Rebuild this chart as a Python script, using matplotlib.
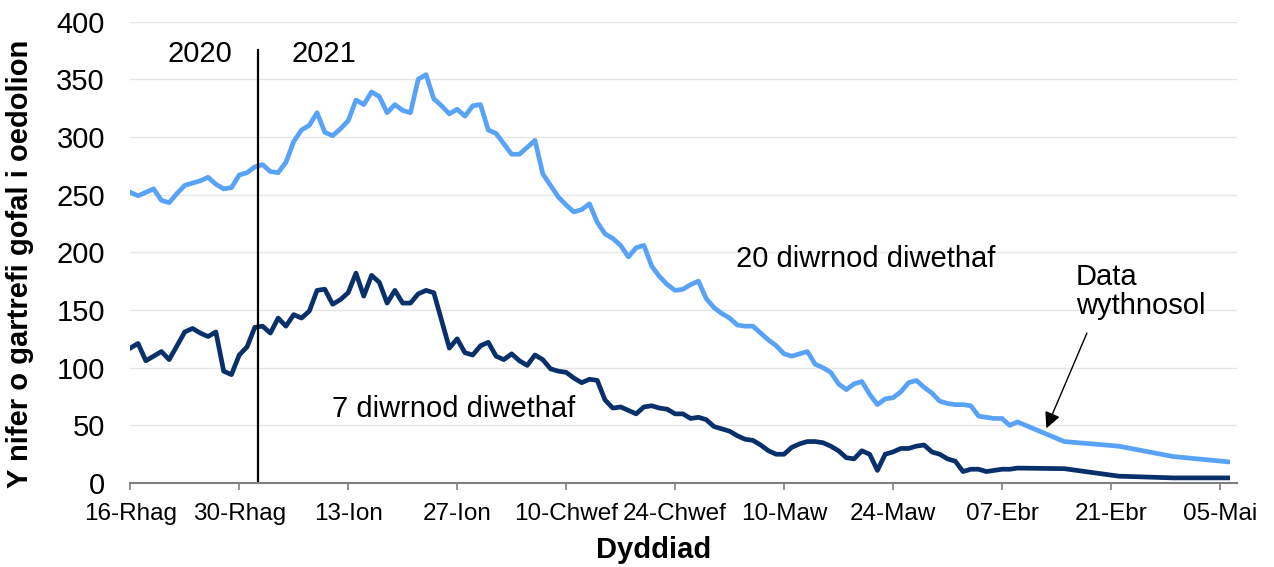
import matplotlib.pyplot as plt
import pandas as pd

plt.rcParams['font.family'] = ['Liberation Sans', 'DejaVu Sans']

# Cartrefi gofal i oedolion sydd wedi rhoi gwybod am achos (20 a 7 diwrnod diwethaf)
dyddiad_dydd = pd.date_range('2020-12-16', periods=115, freq='D')
ugain_dydd = [252, 249, 252, 255, 245, 243, 251, 258, 260, 262, 265, 259, 255, 256, 267, 269,
              274, 276, 270, 269, 278, 296, 306, 310, 321, 304, 301, 307, 314, 332, 328, 339,
              335, 321, 328, 323, 321, 350, 354, 333, 327, 320, 324, 318, 327, 328, 306, 303,
              294, 285, 285, 291, 297, 268, 258, 248, 241, 235, 237, 242, 226, 216, 212, 206,
              196, 204, 206, 188, 179, 172, 167, 168, 172, 175, 160, 152, 147, 143, 137, 136,
              136, 130, 124, 119, 112, 110, 112, 114, 103, 100, 96, 86, 81, 86, 88, 77,
              68, 73, 74, 79, 87, 89, 83, 78, 71, 69, 68, 68, 67, 58, 57, 56,
              56, 50, 53]
saith_dydd = [117, 121, 106, 110, 114, 107, 119, 131, 134, 130, 127, 131, 97, 94, 111, 118,
              135, 136, 130, 143, 136, 146, 143, 149, 167, 168, 155, 159, 165, 182, 162, 180,
              174, 156, 167, 156, 156, 164, 167, 165, 141, 117, 125, 113, 111, 119, 122, 110,
              107, 112, 106, 102, 111, 107, 99, 97, 96, 91, 87, 90, 89, 72, 65, 66,
              63, 60, 66, 67, 65, 64, 60, 60, 56, 57, 55, 49, 47, 45, 41, 38,
              37, 33, 28, 25, 25, 31, 34, 36, 36, 35, 32, 28, 22, 21, 28, 25,
              11, 25, 27, 30, 30, 32, 33, 27, 25, 21, 19, 10, 12, 12, 10, 11,
              12, 12, 13]

# Data wythnosol ar ol 9 Ebrill
dyddiad_wythnos = pd.to_datetime(['2021-04-15', '2021-04-22', '2021-04-29', '2021-05-06'])
ugain_wythnos = [36, 32, 23, 18.5]
saith_wythnos = [12.5, 6, 4.5, 4.5]

labeli_x = ['16-Rhag', '30-Rhag', '13-Ion', '27-Ion', '10-Chwef', '24-Chwef',
            '10-Maw', '24-Maw', '07-Ebr', '21-Ebr', '05-Mai']
ticiau_x = pd.date_range('2020-12-16', periods=len(labeli_x), freq='14D')

golau = '#58A2F8'
tywyll = '#08306B'

dyddiadau = list(dyddiad_dydd) + list(dyddiad_wythnos)
ugain = ugain_dydd + ugain_wythnos
saith = saith_dydd + saith_wythnos

fig = plt.figure(figsize=(12.74, 5.67), dpi=100)
ax = fig.add_axes([0.102, 0.148, 0.869, 0.814])

ax.plot(dyddiadau, ugain, color=golau, lw=3.4, solid_joinstyle='round')
ax.plot(dyddiadau, saith, color=tywyll, lw=3.4, solid_joinstyle='round')

# llinell rhwng 2020 a 2021
diwedd_blwyddyn = pd.Timestamp('2021-01-01 10:00')
ax.plot([diwedd_blwyddyn, diwedd_blwyddyn], [0, 375], color='black', lw=1.6)
ax.text(pd.Timestamp('2020-12-24 22:00'), 372, '2020', fontsize=21, ha='center', va='center')
ax.text(pd.Timestamp('2021-01-09 22:00'), 372, '2021', fontsize=21, ha='center', va='center')

ax.text(pd.Timestamp('2021-03-20 12:00'), 194, '20 diwrnod diwethaf', fontsize=21,
        ha='center', va='center')
ax.text(pd.Timestamp('2021-01-26 12:00'), 64, '7 diwrnod diwethaf', fontsize=21,
        ha='center', va='center')
ax.text(pd.Timestamp('2021-04-16 12:00'), 166, 'Data\nwythnosol', fontsize=21,
        ha='left', va='center', linespacing=1.05)
ax.annotate('', xy=(pd.Timestamp('2021-04-12 17:00'), 47.5),
            xytext=(pd.Timestamp('2021-04-17 22:00'), 130),
            arrowprops=dict(arrowstyle='-|>', color='black', lw=1, mutation_scale=24,
                            shrinkA=0, shrinkB=0))

ax.set_ylim(0, 400)
ax.set_yticks(range(0, 401, 50))
ax.set_xlim(pd.Timestamp('2020-12-15 23:00'), pd.Timestamp('2021-05-07 05:00'))
ax.set_xticks(ticiau_x)
ax.set_xticklabels(labeli_x)
ax.tick_params(axis='x', labelsize=17.5, length=5, width=1.2, color='#808080', pad=9)
ax.tick_params(axis='y', labelsize=21, length=0, pad=18)

ax.grid(axis='y', color='#E6E6E6', lw=1)
ax.set_axisbelow(True)
for s in ['top', 'right', 'left']:
    ax.spines[s].set_visible(False)
ax.spines['bottom'].set_color('#808080')
ax.spines['bottom'].set_linewidth(1.5)

fig.text(20 / 1274, 1 - 264 / 567, 'Y nifer o gartrefi gofal i oedolion', fontsize=21,
         fontweight='bold', rotation=90, ha='center', va='center')
fig.text(654 / 1274, 1 - 550 / 567, 'Dyddiad', fontsize=21, fontweight='bold',
         ha='center', va='center')

fig.savefig('out.png', dpi=100)
